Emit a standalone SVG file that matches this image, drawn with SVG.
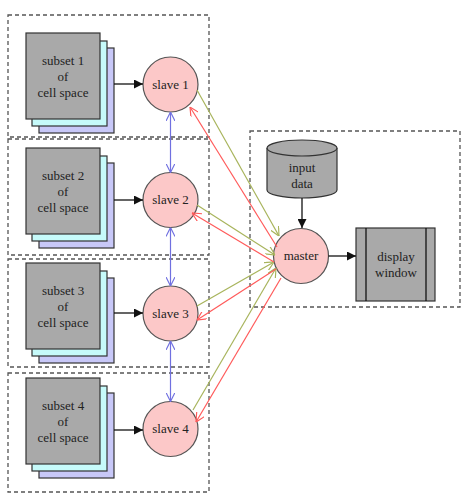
<svg xmlns="http://www.w3.org/2000/svg" width="464" height="494" viewBox="0 0 464 494">
<style>
.cl{fill:none;stroke:#555;stroke-width:1.3;stroke-dasharray:4,3}
.g{fill:#a9a9a9;stroke:#333;stroke-width:1.2}
.c{fill:#c6fafa;stroke:#333;stroke-width:1.2}
.p{fill:#c8c8f8;stroke:#333;stroke-width:1.2}
.n{fill:#fcc8c8;stroke:#555;stroke-width:1.2}
text{font-family:"Liberation Serif","Times New Roman",serif;font-size:13px;fill:#222;text-anchor:middle}
.k{stroke:#111;stroke-width:1.3;fill:none}
.b{stroke:#7070e0;stroke-width:1.2;fill:none}
.gr{stroke:#a8b45c;stroke-width:1.2;fill:none}
.r{stroke:#ff5a5a;stroke-width:1.2;fill:none}
</style>
<defs>
<marker id="ak" viewBox="0 0 10 10" refX="10" refY="5" markerWidth="9" markerHeight="9" orient="auto" markerUnits="userSpaceOnUse"><path d="M0,0L10,5L0,10z" fill="#111"/></marker>
<marker id="ab" viewBox="0 0 10 10" refX="10" refY="5" markerWidth="9" markerHeight="9" orient="auto-start-reverse" markerUnits="userSpaceOnUse"><path d="M0,0L10,5L0,10" fill="none" stroke="#7070e0" stroke-width="1.3"/></marker>
<marker id="ag" viewBox="0 0 10 10" refX="10" refY="5" markerWidth="9" markerHeight="9" orient="auto" markerUnits="userSpaceOnUse"><path d="M0,0L10,5L0,10" fill="none" stroke="#a8b45c" stroke-width="1.3"/></marker>
<marker id="ar" viewBox="0 0 10 10" refX="10" refY="5" markerWidth="9" markerHeight="9" orient="auto" markerUnits="userSpaceOnUse"><path d="M0,0L10,5L0,10" fill="none" stroke="#ff5a5a" stroke-width="1.3"/></marker>
</defs>
<rect width="464" height="494" fill="#fff"/>
<g id="clusters">
<rect class="cl" x="8" y="15" width="201" height="122"/>
<rect class="cl" x="8" y="139" width="201" height="116"/>
<rect class="cl" x="8" y="259" width="201" height="108"/>
<rect class="cl" x="8" y="373" width="201" height="119"/>
<rect class="cl" x="250" y="131" width="210" height="176"/>
</g>
<g id="subset1">
<rect class="p" x="39" y="48" width="75" height="85"/>
<rect class="c" x="32" y="41" width="75" height="85"/>
<rect class="g" x="26" y="33" width="74" height="86"/>
<text x="63" y="65">subset 1</text><text x="63" y="81">of</text><text x="63" y="97">cell space</text>
</g>
<g id="subset2">
<rect class="p" x="39" y="163" width="75" height="85"/>
<rect class="c" x="32" y="156" width="75" height="85"/>
<rect class="g" x="26" y="148" width="74" height="86"/>
<text x="63" y="180">subset 2</text><text x="63" y="196">of</text><text x="63" y="212">cell space</text>
</g>
<g id="subset3">
<rect class="p" x="39" y="278" width="75" height="85"/>
<rect class="c" x="32" y="271" width="75" height="85"/>
<rect class="g" x="26" y="263" width="74" height="86"/>
<text x="63" y="295">subset 3</text><text x="63" y="311">of</text><text x="63" y="327">cell space</text>
</g>
<g id="subset4">
<rect class="p" x="39" y="393" width="75" height="85"/>
<rect class="c" x="32" y="386" width="75" height="85"/>
<rect class="g" x="26" y="378" width="74" height="86"/>
<text x="63" y="410">subset 4</text><text x="63" y="426">of</text><text x="63" y="442">cell space</text>
</g>
<g id="slave1"><circle class="n" cx="170.5" cy="84.5" r="27.5"/><text x="170.5" y="88.5">slave 1</text></g>
<g id="slave2"><circle class="n" cx="170.5" cy="200" r="27.5"/><text x="170.5" y="204">slave 2</text></g>
<g id="slave3"><circle class="n" cx="170.5" cy="313.5" r="27.5"/><text x="170.5" y="317.5">slave 3</text></g>
<g id="slave4"><circle class="n" cx="170.5" cy="429" r="27.5"/><text x="170.5" y="433">slave 4</text></g>
<g id="input">
<path class="g" d="M267,148 L267,190 A35,8 0 0 0 337,190 L337,148"/>
<ellipse class="g" cx="302" cy="148" rx="35" ry="8"/>
<text x="302" y="172">input</text><text x="302" y="188">data</text>
</g>
<g id="master"><circle class="n" cx="301" cy="256" r="27.5"/><text x="301" y="260">master</text></g>
<g id="display">
<rect class="g" x="356" y="228" width="79" height="73"/>
<line class="k" x1="366" y1="228" x2="366" y2="301"/>
<line class="k" x1="426" y1="228" x2="426" y2="301"/>
<text x="396" y="261">display</text><text x="396" y="277">window</text>
</g>
<g id="connectors">
<line class="k" x1="114" y1="84" x2="143" y2="84" marker-end="url(#ak)"/>
<line class="k" x1="114" y1="200" x2="143" y2="200" marker-end="url(#ak)"/>
<line class="k" x1="114" y1="313" x2="143" y2="313" marker-end="url(#ak)"/>
<line class="k" x1="114" y1="430" x2="143" y2="430" marker-end="url(#ak)"/>
<line class="k" x1="302" y1="198" x2="302" y2="228" marker-end="url(#ak)"/>
<line class="k" x1="328.5" y1="256" x2="356" y2="256" marker-end="url(#ak)"/>
<line class="b" x1="170.5" y1="112" x2="170.5" y2="172.5" marker-start="url(#ab)" marker-end="url(#ab)"/>
<line class="b" x1="170.5" y1="227.5" x2="170.5" y2="286" marker-start="url(#ab)" marker-end="url(#ab)"/>
<line class="b" x1="170.5" y1="341" x2="170.5" y2="401.5" marker-start="url(#ab)" marker-end="url(#ab)"/>
<line class="gr" x1="197" y1="90" x2="279" y2="236" marker-end="url(#ag)"/>
<line class="gr" x1="197" y1="205" x2="275" y2="255" marker-end="url(#ag)"/>
<line class="gr" x1="197" y1="306" x2="274" y2="262" marker-end="url(#ag)"/>
<line class="gr" x1="193" y1="410" x2="276" y2="268" marker-end="url(#ag)"/>
<line class="r" x1="277" y1="247" x2="190" y2="107" marker-end="url(#ar)"/>
<line class="r" x1="274" y1="262" x2="192" y2="213" marker-end="url(#ar)"/>
<line class="r" x1="276" y1="269" x2="197" y2="320" marker-end="url(#ar)"/>
<line class="r" x1="281" y1="278" x2="196" y2="422" marker-end="url(#ar)"/>
</g>
</svg>
